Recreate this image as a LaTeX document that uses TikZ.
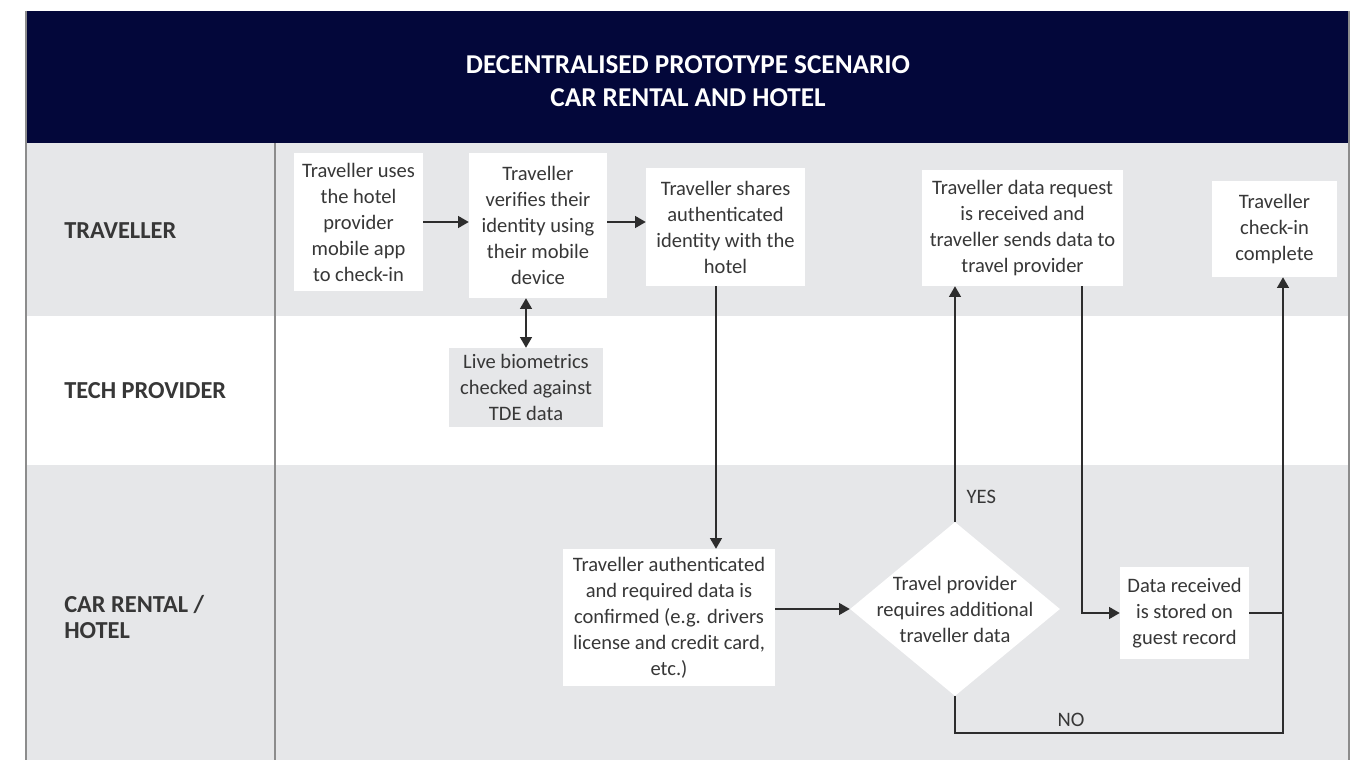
\documentclass[tikz,border=0pt]{standalone}
\usepackage{fontspec}
\setmainfont{Carlito}
\usetikzlibrary{arrows.meta,shapes.geometric}
\definecolor{navy}{RGB}{3,7,58}
\definecolor{lanegray}{RGB}{230,231,233}
\definecolor{txtc}{RGB}{55,55,55}
\definecolor{linec}{RGB}{45,45,45}
\definecolor{borderc}{RGB}{140,140,140}
\begin{document}
\begin{tikzpicture}[x=0.75pt,y=-0.75pt,
  box/.style={fill=white,inner sep=0pt,align=center,text=txtc,font=\fontsize{15.4}{19.5}\selectfont},
  lanelabel/.style={anchor=west,align=left,inner sep=0pt,text=txtc,font=\fontsize{18.3}{19.5}\selectfont\bfseries},
  arr/.style={draw=linec,line width=1pt,-{Triangle[length=8pt,width=9pt]}},
  dblarr/.style={draw=linec,line width=1pt,{Triangle[length=8pt,width=9pt]}-{Triangle[length=8pt,width=9pt]}},
  ln/.style={draw=linec,line width=1pt},
  lbl/.style={text=txtc,font=\fontsize{15.4}{19.5}\selectfont}]
\useasboundingbox (0,0) rectangle (1361,760);
\fill[white] (0,0) rectangle (1361,760);
% lanes
\fill[lanegray] (26,143) rectangle (1349,316);
\fill[lanegray] (26,465) rectangle (1349,760);
% header
\fill[navy] (26,11) rectangle (1349,143);
\node[text=white,font=\fontsize{20.4}{24.75}\selectfont\bfseries,align=center] (title) at (688,81) {DECENTRALISED PROTOTYPE SCENARIO\\CAR RENTAL AND HOTEL};
% borders
\draw[borderc,line width=1.5pt] (26,11) -- (26,760);
\draw[borderc,line width=1.5pt] (1349,11) -- (1349,760);
\draw[borderc,line width=1.2pt] (275,143) -- (275,760);
% lane labels
\node[lanelabel] (l1) at (64,231) {TRAVELLER};
\node[lanelabel] (l2) at (64,391) {TECH PROVIDER};
\node[lanelabel] (l3) at (64,617) {CAR RENTAL /\\HOTEL};
% boxes
\node[box,minimum width=129*0.75pt,minimum height=138*0.75pt] (B1) at (358.5,222) {Traveller uses\\the hotel\\provider\\mobile app\\to check-in};
\node[box,minimum width=138*0.75pt,minimum height=145*0.75pt] (B2) at (538,225.5) {Traveller\\verifies their\\identity using\\their mobile\\device};
\node[box,minimum width=159*0.75pt,minimum height=118*0.75pt] (B3) at (725.5,227) {Traveller shares\\authenticated\\identity with the\\hotel};
\node[box,fill=lanegray,minimum width=154*0.75pt,minimum height=79*0.75pt] (B4) at (526,387.5) {Live biometrics\\checked against\\TDE data};
\node[box,minimum width=201*0.75pt,minimum height=116*0.75pt] (B5) at (1022.5,228) {Traveller data request\\is received and\\traveller sends data to\\travel provider};
\node[box,minimum width=125*0.75pt,minimum height=96*0.75pt] (B6) at (1274.5,229) {Traveller\\check-in\\complete};
\node[box,minimum width=212*0.75pt,minimum height=137*0.75pt] (B7) at (669,617.5) {Traveller authenticated\\and required data is\\confirmed (e.g. drivers\\license and credit card,\\etc.)};
\node[diamond,fill=white,inner sep=0pt,minimum width=210*0.75pt,minimum height=174*0.75pt] (D) at (955,609) {};
\node[box,fill=none] (Dt) at (D.center) {Travel provider\\requires additional\\traveller data};
\node[box,minimum width=129*0.75pt,minimum height=92*0.75pt] (B8) at (1184.5,613) {Data received\\is stored on\\guest record};
% helper coordinates
\coordinate (c1) at (716,0);
\coordinate (c2) at (1082,0);
\coordinate (c3) at (1283,0);
\coordinate (c4) at (0,733);
% connectors
\draw[arr] (B1.east) -- (B1.east -| B2.west);
\draw[arr] (B1.east -| B2.east) -- (B1.east -| B3.west);
\draw[dblarr] (B4.north |- B2.south) -- (B4.north);
\draw[arr] (B3.south -| c1) -- (B7.north -| c1);
\draw[arr] (D.west -| B7.east) -- (D.west);
\draw[arr] (D.north) -- (D.north |- B5.south);
\draw[arr] (B5.south -| c2) |- (B8.west);
\draw[arr] (B8.east) -- (B8.east -| c3) -- (B6.south -| c3);
\draw[ln] (D.south) |- (c4 -| c3) -- (B8.east -| c3);
% labels
\node[lbl,anchor=west] (yes) at (962,497) {YES};
\node[lbl] (no) at (1071,720) {NO};
\end{tikzpicture}
\end{document}
